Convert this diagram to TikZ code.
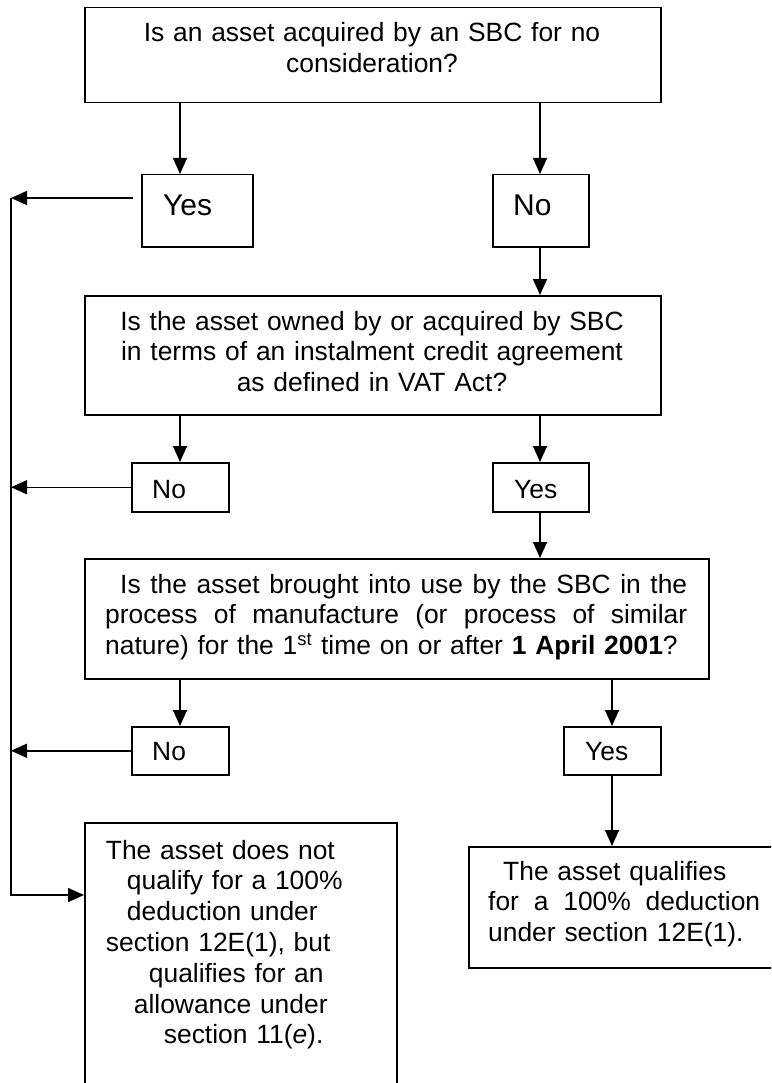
\documentclass[tikz,border=0pt]{standalone}
\usepackage{fontspec}
\setmainfont{Liberation Sans}
\usetikzlibrary{arrows.meta,calc}
\newcommand{\spreadline}[2]{\leavevmode\hbox to #1{#2}}
\begin{document}
\begin{tikzpicture}[x=1pt,y=-1pt,
  box/.style={draw, line width=1.5pt, inner sep=0pt, anchor=north west},
  txt/.style={font=\fontsize{26.4}{30.8}\selectfont, inner sep=0pt},
  bigtxt/.style={font=\fontsize{30}{34}\selectfont, inner sep=0pt, anchor=base west},
  conn/.style={line width=1.5pt, -{Triangle[length=16pt,width=14pt]}},
  rail/.style={line width=1.5pt}]
\fill[white] (0,0) rectangle (771,1083);
\useasboundingbox (0,0) rectangle (771,1083);
\clip (0,0) rectangle (771,1083);

% column coordinates
\coordinate (colL) at (180,0);
\coordinate (colM) at (540,0);
\coordinate (colR) at (612,0);
\coordinate (railtop) at (11,198);
\coordinate (railbot) at (11,895);

% boxes
\node[box, minimum width=576pt, minimum height=95pt] (q1) at (84,7) {};
\node[box, minimum width=111pt, minimum height=72pt] (yes1) at (141,174) {};
\node[box, minimum width=96pt, minimum height=72pt] (no1) at (492,174) {};
\node[box, minimum width=576pt, minimum height=119pt] (q2) at (84,295) {};
\node[box, minimum width=97pt, minimum height=49pt] (no2) at (131,462) {};
\node[box, minimum width=96pt, minimum height=49pt] (yes2) at (492,462) {};
\node[box, minimum width=624pt, minimum height=120pt] (q3) at (84,558) {};
\node[box, minimum width=97pt, minimum height=48pt] (no3) at (131,726) {};
\node[box, minimum width=97pt, minimum height=48pt] (yes3) at (563,726) {};
\node[box, minimum width=312pt, minimum height=300pt] (resL) at (84,822) {};
\node[box, minimum width=330pt, minimum height=121pt] (resR) at (468,846) {};

% texts
\node[txt, anchor=base, text width=576pt, align=center] (q1t) at (372,42)
  {Is an asset acquired by an SBC for no\\consideration?};
\node[bigtxt] (yes1t) at (163,215) {Yes};
\node[bigtxt] (no1t) at (513,215) {No};
\node[txt, anchor=base, text width=576pt, align=center] (q2t) at (372,330)
  {Is the asset owned by or acquired by SBC\\in terms of an instalment credit agreement\\as defined in VAT Act?};
\node[txt, anchor=base west] (no2t) at (152,498) {No};
\node[txt, anchor=base west] (yes2t) at (514,498) {Yes};
\node[txt, anchor=base west, text width=590pt, align=left] (q3t) at (105,593)
  {\hspace*{15pt}\spreadline{567pt}{Is \hfill the \hfill asset \hfill brought \hfill into \hfill use \hfill by \hfill the \hfill SBC \hfill in \hfill the}\\
   \spreadline{582pt}{process \hfill of \hfill manufacture \hfill (or \hfill process \hfill of \hfill similar}\\
   nature) for the 1\textsuperscript{st} time on or after \textbf{1 April 2001}?};
\node[txt, anchor=base west] (no3t) at (152,760) {No};
\node[txt, anchor=base west] (yes3t) at (585,760) {Yes};
\node[txt, anchor=base west, text width=280pt, align=left] (resLt) at (105.7,859)
  {The asset does not\\
   \hspace*{21pt}qualify for a 100\%\\
   \hspace*{21pt}deduction under\\
   section 12E(1), but\\
   \hspace*{43pt}qualifies for an\\
   \hspace*{28pt}allowance under\\
   \hspace*{58pt}section 11(\textit{e}).};
\node[txt, anchor=base west, text width=280pt, align=left] (resRt) at (488,880)
  {\hspace*{15pt}The asset qualifies\\
   \spreadline{272pt}{for \hfill a \hfill 100\% \hfill deduction}\\
   under section 12E(1).};

% vertical connectors
\draw[conn] (q1.south -| colL) -- (yes1.north -| colL);
\draw[conn] (q1.south -| colM) -- (no1.north -| colM);
\draw[conn] (no1.south -| colM) -- (q2.north -| colM);
\draw[conn] (q2.south -| colL) -- (no2.north -| colL);
\draw[conn] (q2.south -| colM) -- (yes2.north -| colM);
\draw[conn] (yes2.south -| colM) -- (q3.north -| colM);
\draw[conn] (q3.south -| colL) -- (no3.north -| colL);
\draw[conn] (q3.south -| colR) -- (yes3.north -| colR);
\draw[conn] (yes3.south -| colR) -- (resR.north -| colR);

% left rail
\draw[conn] ($(yes1.west |- railtop)+(-8,0)$) -- (railtop);
\draw[conn] (no2.west) -- (no2.west -| railtop);
\draw[conn] (no3.west) -- (no3.west -| railtop);
\draw[conn] (railtop) -- (railbot) -- (resL.west |- railbot);
\end{tikzpicture}
\end{document}
